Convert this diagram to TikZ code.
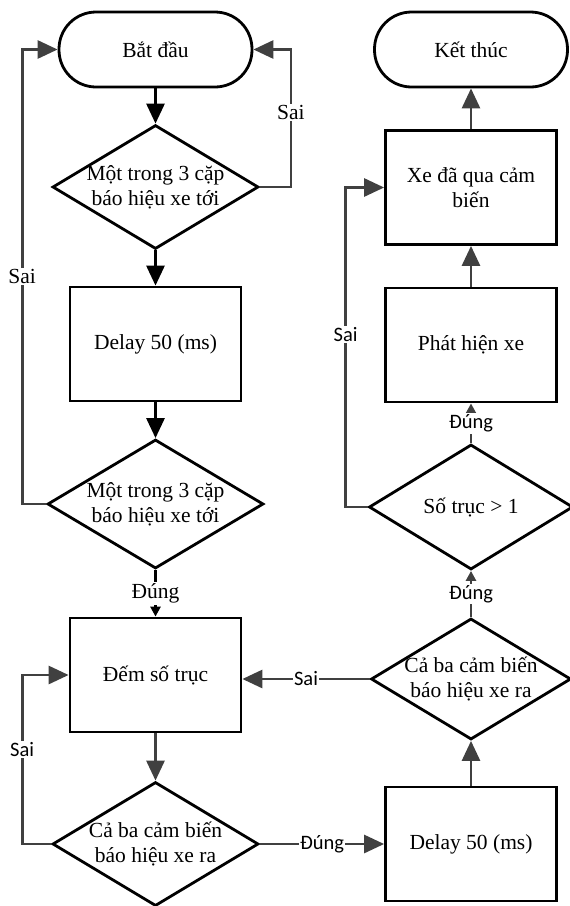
\documentclass[tikz,border=0pt]{standalone}
\usepackage{fontspec}
\setmainfont{Liberation Serif}
\newfontfamily\calfont{Carlito}
\usetikzlibrary{arrows.meta,shapes.geometric}
\definecolor{lgray}{RGB}{64,64,64}
\begin{document}
\begin{tikzpicture}[x=1pt,y=-1pt,
  every node/.style={font=\fontsize{21.5}{25}\selectfont},
  term/.style={draw, line width=2.8pt, rounded corners=37pt, minimum width=193pt, minimum height=75pt, inner sep=0pt},
  proc/.style={draw, line width=2.8pt, minimum width=171pt, minimum height=114pt, align=center, inner sep=0pt},
  dec/.style={draw, diamond, line width=2.8pt, inner sep=0pt},
  dtext/.style={align=center, inner sep=0pt},
  blkarrow/.style={draw=black, line width=2.8pt, -{Triangle[length=20pt,width=18pt]}},
  gryarrow/.style={draw=lgray, line width=2.8pt, -{Triangle[length=20pt,width=18pt]}},
  blksmall/.style={draw=black, line width=2.8pt, -{Triangle[length=10pt,width=10pt]}},
  grysmall/.style={draw=lgray, line width=2.8pt, -{Triangle[length=10pt,width=10pt]}},
  lab/.style={fill=white, inner sep=1.5pt, text=black},
  slab/.style={fill=white, inner sep=1.5pt, text=black, font=\calfont\fontsize{20.5}{24}\selectfont}
]
\fill[white] (0,0) rectangle (570,906);
\useasboundingbox (0,0) rectangle (570,906);

% left column
\node[term] (start) at (155.5,49.5) {Bắt đầu};
\node[dec, minimum width=206pt, minimum height=124pt,
  label={[name=d1t,dtext]center:Một trong 3 cặp\\báo hiệu xe tới}] (d1) at (155.5,187) {};
\node[proc] (del1) at (155.5,344) {Delay 50 (ms)};
\node[dec, minimum width=216pt, minimum height=129pt,
  label={[name=d2t,dtext]center:Một trong 3 cặp\\báo hiệu xe tới}] (d2) at (155.5,504) {};
\node[proc] (cnt) at (155.5,675) {Đếm số trục};
\node[dec, minimum width=206pt, minimum height=124pt,
  label={[name=d3t,dtext]center:Cả ba cảm biến\\báo hiệu xe ra}] (d3) at (155.5,844) {};

% right column
\node[proc] (del2) at (471,844) {Delay 50 (ms)};
\node[dec, minimum width=200pt, minimum height=121pt,
  label={[name=d4t,dtext]center:Cả ba cảm biến\\báo hiệu xe ra}] (d4) at (471,679) {};
\node[dec, minimum width=204pt, minimum height=125pt,
  label={[name=d5t,dtext]center:Số trục > 1}] (d5) at (471,507) {};
\node[proc] (det) at (471,345) {Phát hiện xe};
\node[proc] (pass) at (471,187.5) {Xe đã qua cảm\\biến};
\node[term] (end) at (471,49.5) {Kết thúc};

% connectors left column
\draw[blkarrow] (start.south) -- (d1.north);
\draw[blkarrow] (d1.south) -- (del1.north);
\draw[blkarrow] (del1.south) -- (d2.north);
\draw[blksmall] (d2.south) -- node[lab]{Đúng} (cnt.north);
\draw[gryarrow] (d2.west) -- ++(-24,0) |- node[lab,pos=0.25]{Sai} (start.west);
\draw[gryarrow] (d1.east) -- ++(31,0) |- node[lab,pos=0.27]{Sai} (start.east);
\draw[gryarrow] (cnt.south) -- (d3.north);
\draw[gryarrow] (d3.west) -- ++(-29,0) |- node[slab,pos=0.28]{Sai} (cnt.west);

% bottom and right column
\draw[gryarrow] (d3.east) -- node[slab]{Đúng} (del2.west);
\draw[gryarrow] (del2.north) -- (d4.south);
\draw[gryarrow] (d4.west) -- node[slab]{Sai} (d4.west -| cnt.east);
\draw[grysmall] (d4.north) -- node[slab]{Đúng} (d5.south);
\draw[grysmall] (d5.north) -- node[slab]{Đúng} (det.south);
\draw[gryarrow] (det.north) -- (pass.south);
\draw[gryarrow] (pass.north) -- (end.south);
\draw[gryarrow] (d5.west) -- ++(-22,0) |- node[slab,pos=0.27]{Sai} (pass.west);
\end{tikzpicture}
\end{document}
